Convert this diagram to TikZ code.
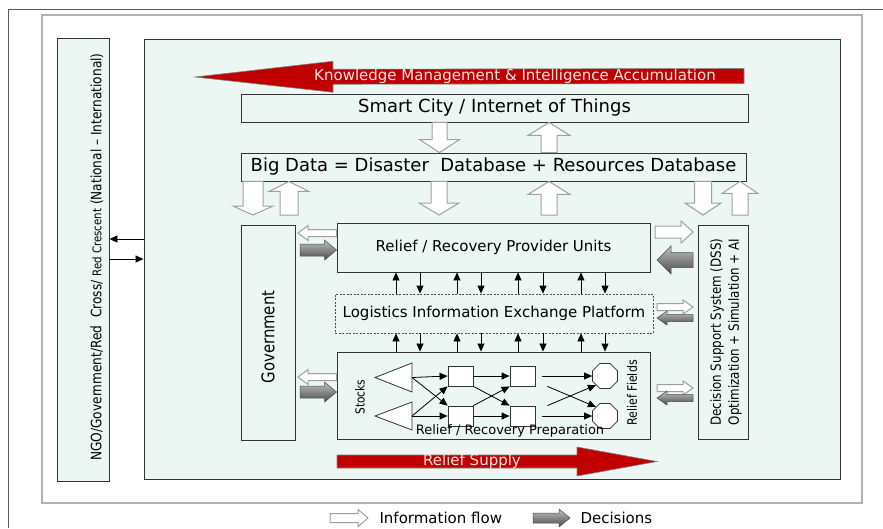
\documentclass[tikz,border=0pt]{standalone}
\usepackage{fontspec}
\setmainfont{DejaVu Sans}
\newfontfamily\narrowfont{DejaVu Sans}[FakeStretch=0.85, Ligatures=TeX]
\usetikzlibrary{calc,arrows.meta,shapes.geometric}

\definecolor{mint}{RGB}{236,246,242}
\definecolor{darkred}{RGB}{192,0,0}
\definecolor{pinktext}{RGB}{255,228,228}

\newcommand{\fsz}[1]{\fontsize{#1}{1.2\dimexpr#1pt\relax}\selectfont}

% block arrow: style, from, to, half shaft, half head, head length
\newcommand{\blockarrow}[6]{%
  \coordinate (ba-s) at #2;
  \coordinate (ba-e) at #3;
  \coordinate (ba-h) at ($(ba-e)!#6!(ba-s)$);
  \path[#1] ($(ba-s)!#4!90:(ba-e)$) -- ($(ba-h)!#4!-90:(ba-s)$) -- ($(ba-h)!#5!-90:(ba-s)$)
    -- (ba-e) -- ($(ba-h)!#5!90:(ba-s)$) -- ($(ba-h)!#4!90:(ba-s)$) -- ($(ba-s)!#4!-90:(ba-e)$) -- cycle;
}

\begin{document}
\begin{tikzpicture}[x=1pt, y=-1pt,
  box/.style={draw=black!80, fill=mint, line width=0.9pt, inner sep=0pt},
  cell/.style={draw=black!80, fill=white, line width=0.8pt, minimum width=25pt, minimum height=20pt, inner sep=0pt},
  field/.style={draw=black!80, fill=white, line width=0.8pt, regular polygon, regular polygon sides=8, minimum size=27pt, inner sep=0pt},
  tip/.style={-{Triangle[length=8pt,width=7pt]}, line width=0.8pt},
  info/.style={draw=gray!75, fill=white, line width=1pt},
  decision/.style={draw=gray!60!black, top color=gray!50, bottom color=black!70, line width=0.5pt},
  redarrow/.style={draw=black!50, fill=darkred, line width=0.6pt}]
\useasboundingbox (0,0) rectangle (883,528);

% Draw the page frame
\draw[gray!70!black, line width=0.8pt] (8,528) -- (8,9) -- (883,9);
\draw[gray!60, line width=1.2pt] (42,15) rectangle (862,503);

% Draw the main panel and the NGO panel
\node[box, minimum width=696pt, minimum height=440pt] (main) at (492,259) {};
\node[box, minimum width=52pt, minimum height=443pt] (ngo) at (83,259.5) {};
\node[rotate=90, font=\narrowfont\fsz{14.3}] (ngotext) at (97,257) {NGO/Government/Red\ \ Cross/ {\fsz{12}Red Crescent} (National – International)};
\draw[tip] (main.west |- 0,239) -- (ngo.east |- 0,239);
\draw[tip] (ngo.east |- 0,259) -- (main.west |- 0,259);

% Knowledge arrow
\blockarrow{redarrow}{(744,76)}{(195,77)}{7.5pt}{15.5pt}{138pt}
\node[text=pinktext, font=\fsz{15}] (knowledge) at (515,76) {Knowledge Management \& Intelligence Accumulation};

% Draw the data layers
\node[box, minimum width=507pt, minimum height=28pt, font=\fsz{18}] (smart) at (494.5,108) {Smart City / Internet of Things};
\node[box, minimum width=505pt, minimum height=28pt, font=\fsz{18}] (bigdata) at (493.5,167) {Big Data = Disaster\ \ Database + Resources Database};
\blockarrow{info}{(smart.south -| 439.5,0)}{(bigdata.north -| 439.5,0)}{7.5pt}{20pt}{13pt}
\blockarrow{info}{(bigdata.north -| 549,0)}{(smart.south -| 549,0)}{8pt}{21pt}{13pt}

% Draw the lower boxes
\node[box, minimum width=54pt, minimum height=215pt] (gov) at (268,332.5) {};
\node[rotate=90, font=\narrowfont\fsz{17.5}] (govtext) at (268,337) {Government};
\node[box, minimum width=313pt, minimum height=49pt, font=\fsz{15}] (provider) at (493.5,247.5) {Relief / Recovery\ Provider\ Units};
\node[box, draw=gray!60!black, dash pattern=on 2pt off 1.5pt, line width=0.8pt, minimum width=318pt, minimum height=39pt, font=\fsz{15}] (platform) at (494,313.5) {Logistics Information Exchange Platform};
\node[box, minimum width=313pt, minimum height=87pt] (prep) at (493.5,395.5) {};
\node[box, minimum width=50pt, minimum height=214pt] (dss) at (723,332) {};
\node[rotate=90, align=center, font={\narrowfont\fontsize{14}{18}\selectfont}] (dsstext) at (726,332) {Decision Support System (DSS)\\Optimization + Simulation + AI};

% Big data to the lower boxes
\blockarrow{info}{(bigdata.south -| 253,0)}{(253,215)}{10pt}{20pt}{9pt}
\blockarrow{info}{(289,215)}{(bigdata.south -| 289,0)}{9pt}{20pt}{10pt}
\blockarrow{info}{(bigdata.south -| 439,0)}{(439,215)}{8pt}{20pt}{12pt}
\blockarrow{info}{(549,215)}{(bigdata.south -| 549,0)}{8pt}{21pt}{13pt}
\blockarrow{info}{(bigdata.south -| 703,0)}{(703,215)}{8.5pt}{18pt}{12pt}
\blockarrow{info}{(740,215)}{(bigdata.south -| 740,0)}{8pt}{18pt}{12pt}

% Government side
\blockarrow{info}{(provider.west |- 0,233)}{(298,233)}{3.5pt}{7.5pt}{10pt}
\blockarrow{decision}{(300,250)}{(provider.west |- 0,250)}{6pt}{10pt}{12pt}
\blockarrow{info}{(prep.west |- 0,377)}{(298,377)}{3.5pt}{7.5pt}{10pt}
\blockarrow{decision}{(300,392)}{(prep.west |- 0,392)}{6pt}{10pt}{12pt}

% DSS side
\blockarrow{info}{(655,232)}{(693,232)}{6pt}{11pt}{12pt}
\blockarrow{decision}{(693,260)}{(657,260)}{7.5pt}{14pt}{14pt}
\blockarrow{info}{(657,307)}{(693,307)}{3.5pt}{7pt}{10pt}
\blockarrow{decision}{(693,318)}{(657,318)}{3.5pt}{7pt}{10pt}
\blockarrow{info}{(657,388)}{(693,388)}{3.5pt}{7pt}{10pt}
\blockarrow{decision}{(693,398)}{(657,398)}{3.5pt}{7pt}{10pt}

% Exchange with the platform
\foreach \x in {396,457,518,581} {
  \draw[tip] (platform.north -| \x,0) -- (provider.south -| \x,0);
  \draw[tip] (prep.north -| \x,0) -- (platform.south -| \x,0);
}
\foreach \x in {420,481,543,605} {
  \draw[tip] (provider.south -| \x,0) -- (platform.north -| \x,0);
  \draw[tip] (platform.south -| \x,0) -- (prep.north -| \x,0);
}

% Preparation network
\draw[draw=black!80, fill=white, line width=0.8pt] (412,363) -- (375,377.5) -- (412,392) -- cycle;
\draw[draw=black!80, fill=white, line width=0.8pt] (412,402) -- (375,416) -- (412,430) -- cycle;
\coordinate (stA) at (412,377.5);
\coordinate (stB) at (412,416);
\node[cell] (pa1) at (460.5,376) {};
\node[cell] (pb1) at (460.5,416) {};
\node[cell] (pa2) at (522.5,376) {};
\node[cell] (pb2) at (522.5,416) {};
\node[field] (fa) at (605,376) {};
\node[field] (fb) at (605,416) {};
\draw[tip] (stA) -- (pa1.west);
\draw[tip] (stA) -- (pb1.north west);
\draw[tip] (stB) -- (pa1.south west);
\draw[tip] (stB) -- (pb1.west);
\draw[tip] (pa1.east) -- (pa2.west);
\draw[tip] (pa1.south east) -- (pb2.north west);
\draw[tip] (pb1.north east) -- (pa2.south west);
\draw[tip] (pb1.east) -- (pb2.west);
\draw[tip] ([xshift=7pt]pa2.east) -- (fa.west);
\draw[tip] ([xshift=7pt]pb2.east) -- (fb.west);
\draw[tip] ([xshift=12pt]pa2.south east) -- (fb.north west);
\draw[tip] ([xshift=12pt]pb2.north east) -- (fa.south west);
\node[rotate=90, font=\narrowfont\fsz{12.5}] (stocks) at (360,397) {Stocks};
\node[rotate=90, font=\narrowfont\fsz{13}] (fields) at (632,393) {Relief Fields};
\node[font=\fsz{13}] (preptext) at (510,431) {Relief / Recovery Preparation};

% Relief supply arrow
\blockarrow{redarrow}{(337,461.5)}{(657,461.5)}{6.5pt}{14.5pt}{80pt}
\node[text=pinktext, font=\fsz{15}] (supply) at (472,461) {Relief Supply};

% Legend
\blockarrow{info}{(330,518)}{(368,518)}{4.5pt}{8.5pt}{10pt}
\node[anchor=west, font=\fsz{15}] (infolabel) at (376,518) {Information flow};
\blockarrow{decision}{(533,518)}{(570,518)}{5pt}{9pt}{11pt}
\node[anchor=west, font=\fsz{15}] (declabel) at (577,518) {Decisions};
\end{tikzpicture}
\end{document}
